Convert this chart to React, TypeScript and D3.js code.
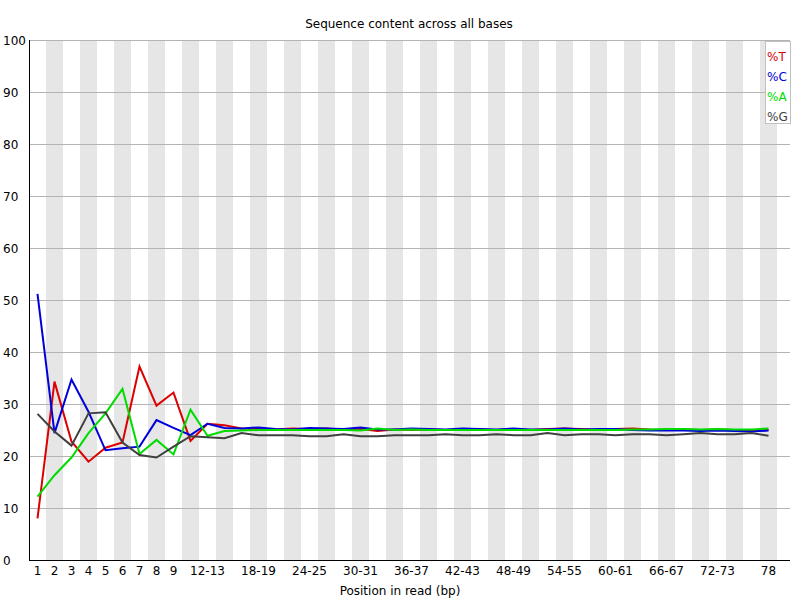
import React from "react";
import * as d3 from "d3";

const categories: string[] = [
  "1","2","3","4","5","6","7","8","9",
  "10-11","12-13","14-15","16-17","18-19","20-21","22-23","24-25","26-27","28-29",
  "30-31","32-33","34-35","36-37","38-39","40-41","42-43","44-45","46-47","48-49",
  "50-51","52-53","54-55","56-57","58-59","60-61","62-63","64-65","66-67","68-69",
  "70-71","72-73","74-75","76-77","78",
];

const shownLabels: string[] = [
  "1","2","3","4","5","6","7","8","9","12-13","18-19","24-25","30-31","36-37",
  "42-43","48-49","54-55","60-61","66-67","72-73","78",
];

const yTicks: number[] = [0, 10, 20, 30, 40, 50, 60, 70, 80, 90, 100];

const seriesT: number[] = [8.0,34.3,22.8,18.9,21.6,22.6,37.2,29.7,32.2,22.9,26.2,25.9,25.3,25.2,25.1,25.3,25.2,25.3,25.0,25.2,24.8,25.1,25.0,25.1,25.0,25.1,25.1,25.0,25.1,25.0,25.2,25.3,25.2,25.0,25.2,25.3,25.1,25.0,25.1,25.0,25.1,25.0,24.9,25.0];
const seriesC: number[] = [51.2,24.4,34.7,28.5,21.1,21.5,21.8,26.9,25.4,24.0,26.2,25.4,25.3,25.5,25.2,25.1,25.4,25.3,25.2,25.5,25.1,25.1,25.3,25.2,25.1,25.3,25.2,25.1,25.3,25.1,25.1,25.3,25.1,25.2,25.2,25.0,24.9,24.9,24.9,24.8,24.9,24.8,24.7,24.9];
const seriesA: number[] = [12.2,16.3,19.7,24.4,28.2,32.9,20.4,23.1,20.3,28.9,23.9,24.8,24.9,25.0,25.0,25.0,25.0,25.0,25.0,24.9,25.3,25.0,25.1,25.0,25.0,25.0,25.0,25.0,25.0,25.0,25.0,25.0,25.0,25.0,25.0,25.1,25.1,25.2,25.2,25.1,25.2,25.1,25.1,25.3];
const seriesG: number[] = [28.1,24.7,22.0,28.2,28.4,22.6,20.2,19.7,21.8,23.8,23.6,23.4,24.4,24.0,24.0,24.0,23.8,23.8,24.2,23.8,23.8,24.0,24.0,24.0,24.2,24.0,24.0,24.2,24.0,24.0,24.4,24.0,24.2,24.2,24.0,24.2,24.2,24.0,24.2,24.4,24.2,24.2,24.4,23.9];

const seriesNames: string[] = ["%T", "%C", "%A", "%G"];
const seriesColors: string[] = ["rgb(220,0,0)", "rgb(0,0,220)", "rgb(0,220,0)", "rgb(64,64,64)"];

const W = 800;
const H = 600;
const X0 = 29;
const BW = 17;
const TOP = 40;
const BOTTOM = 560;
const RIGHT = 790;
const FONT = "'DejaVu Sans', sans-serif";

export default function App() {
  const allSeries = [seriesT, seriesC, seriesA, seriesG];
  const x = d3.scaleBand<string>().domain(categories).range([X0, X0 + BW * categories.length]).padding(0);
  const y = d3.scaleLinear().domain([0, 100]).range([BOTTOM, TOP]);
  const cx = (c: string) => (x(c) as number) + x.bandwidth() / 2;
  const line = d3
    .line<number>()
    .x((_, i) => cx(categories[i]))
    .y((d) => y(d));

  return (
    <svg
      width={W}
      height={H}
      style={{ position: "absolute", left: 0, top: 0, background: "#fff" }}
      fontFamily={FONT}
      fontSize={12}
    >
      <rect x={0} y={0} width={W} height={H} fill="#fff" />
      {categories.map((c, i) =>
        i % 2 === 1 ? (
          <rect key={c} x={x(c)} y={TOP} width={x.bandwidth()} height={BOTTOM - TOP} fill="rgb(230,230,230)" />
        ) : null
      )}
      {yTicks.map((t) => (
        <g key={t}>
          <line x1={X0} x2={RIGHT} y1={y(t)} y2={y(t)} stroke="rgb(180,180,180)" strokeWidth={1} shapeRendering="crispEdges" />
          <text x={3} y={y(t) + 5} fill="#000">{t}</text>
        </g>
      ))}
      <line x1={X0} x2={X0} y1={TOP} y2={BOTTOM} stroke="#000" strokeWidth={1} shapeRendering="crispEdges" />
      <line x1={X0} x2={RIGHT} y1={BOTTOM} y2={BOTTOM} stroke="#000" strokeWidth={1} shapeRendering="crispEdges" />
      {shownLabels.map((c) => (
        <text key={c} x={cx(c)} y={575} textAnchor="middle" fill="#000">{c}</text>
      ))}
      <text x={409} y={28} textAnchor="middle" fill="#000">Sequence content across all bases</text>
      <text x={400} y={595} textAnchor="middle" fill="#000">Position in read (bp)</text>
      {allSeries.map((s, k) => (
        <path key={k} d={line(s) || ""} fill="none" stroke={seriesColors[k]} strokeWidth={2} strokeLinejoin="miter" />
      ))}
      <rect x={765.5} y={41.5} width={25} height={82} fill="#fff" stroke="rgb(192,192,192)" strokeWidth={1} />
      {seriesNames.map((n, k) => (
        <text key={n} x={767} y={60.5 + k * 20} fill={seriesColors[k]}>{n}</text>
      ))}
    </svg>
  );
}
